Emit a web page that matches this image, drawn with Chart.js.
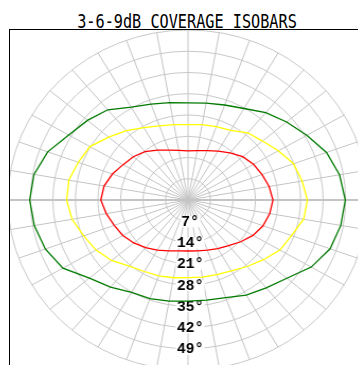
<!DOCTYPE html>
<html>
<head>
<meta charset="utf-8">
<script src="https://cdn.jsdelivr.net/npm/chart.js@4/dist/chart.umd.min.js"></script>
<style>
  body { margin: 0; width: 358px; height: 365px; background: #fff; overflow: hidden; position: relative; }
  #titulo {
    position: absolute; left: 0; top: 12px; width: 374px; text-align: center;
    font: 19px "DejaVu Sans Mono"; line-height: 19px; color: #000;
    transform: scaleX(0.8); transform-origin: 187px 10px; white-space: nowrap;
  }
  #marco {
    position: absolute; left: 9px; top: 29px; width: 360px; height: 350px;
    border-left: 1px solid #000; border-top: 1px solid #000; overflow: hidden;
  }
  #grafico { position: absolute; left: -2px; top: -10px; transform: scaleX(1.06); transform-origin: 180px 180px; }
</style>
</head>
<body>
<div id="titulo">3-6-9dB COVERAGE ISOBARS</div>
<div id="marco"><canvas id="grafico" width="360" height="360"></canvas></div>
<script>
// angulos cada 10 grados, empezando arriba y en sentido horario
var angulos = [];
for (var i = 0; i < 36; i++) angulos.push("");

// grados de cobertura
var isobara3dB = [16.2, 16.5, 17.3, 18.6, 20.3, 22.2, 23.5, 24.5, 25.6, 26.4, 25.8, 24.8,
  23.3, 21.4, 19.6, 18.5, 17.6, 17.0, 16.8, 17.0, 17.8, 19.1, 20.5, 22.0,
  23.4, 24.4, 25.8, 27.1, 26.5, 25.0, 23.3, 22.2, 20.8, 19.0, 17.5, 16.6];
var isobara6dB = [24.8, 25.2, 25.7, 26.5, 28.9, 30.2, 32.4, 34.9, 36.0, 37.1, 36.5, 34.2,
  33.0, 30.6, 28.6, 27.0, 26.2, 25.8, 25.6, 26.0, 26.6, 27.2, 28.4, 31.0,
  33.0, 34.5, 36.6, 37.7, 37.6, 36.3, 35.2, 32.2, 29.8, 27.5, 26.0, 25.2];
var isobara9dB = [32.0, 32.4, 33.3, 34.8, 37.6, 40.0, 42.6, 45.8, 47.8, 48.9, 48.2, 47.0,
  44.2, 40.1, 37.8, 36.2, 34.2, 33.5, 33.3, 33.8, 34.6, 35.1, 37.5, 40.0,
  44.9, 47.2, 48.5, 49.2, 48.6, 46.4, 42.8, 40.8, 38.8, 35.3, 33.6, 32.6];

var etiquetasGrados = [7, 14, 21, 28, 35, 42, 49];

// etiquetas de grados hacia abajo del centro
const etiquetasPlugin = {
  id: "etiquetas",
  beforeDatasetsDraw(chart) {
    const escala = chart.scales.r;
    const ctx = chart.ctx;
    ctx.save();
    ctx.font = "bold 14px 'Liberation Mono'";
    ctx.textAlign = "center";
    ctx.textBaseline = "middle";
    etiquetasGrados.forEach((valor) => {
      const y = escala.yCenter + escala.getDistanceFromCenterForValue(valor);
      const texto = valor + "°";
      const ancho = ctx.measureText(texto).width;
      ctx.fillStyle = "#fff";
      ctx.fillRect(escala.xCenter + 2 - ancho / 2 - 1, y - 5, ancho + 2, 11);
      ctx.fillStyle = "#000";
      ctx.fillText(texto, escala.xCenter + 2, y + 1);
    });
    ctx.restore();
  },
};

const ctx = document.getElementById("grafico");

window.graficoIsobaras = new Chart(ctx, {
  type: "radar",
  data: {
    labels: angulos,
    datasets: [
      { label: "-3dB", data: isobara3dB, borderColor: "#ff0000" },
      { label: "-6dB", data: isobara6dB, borderColor: "#ffff00" },
      { label: "-9dB", data: isobara9dB, borderColor: "#007a00" },
    ],
  },
  options: {
    responsive: false,
    animation: false,
    layout: { padding: 10 },
    elements: {
      line: { borderWidth: 1.3, fill: false, tension: 0 },
      point: { radius: 0, hoverRadius: 0 },
    },
    plugins: { legend: { display: false }, tooltip: { enabled: false } },
    scales: {
      r: {
        min: 0,
        max: 56,
        ticks: { stepSize: 7, display: false },
        pointLabels: { display: false },
        grid: { circular: true, color: "#c8c8c8", lineWidth: 1 },
        angleLines: {
          color: "#c4c4c4",
          lineWidth: (c) => (c.index % 18 === 9 ? 2 : 1),
        },
      },
    },
  },
  plugins: [etiquetasPlugin],
});
</script>
</body>
</html>
